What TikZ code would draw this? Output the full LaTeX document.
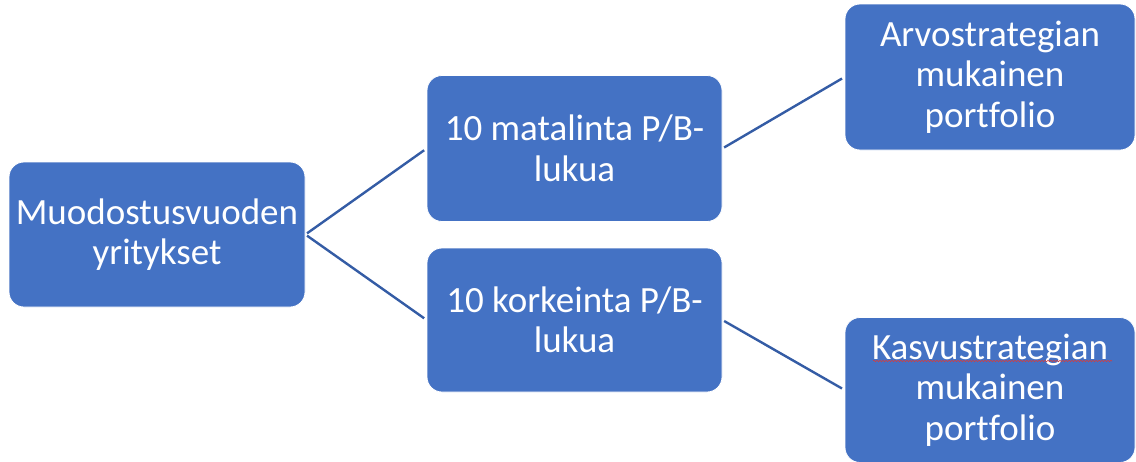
\documentclass[tikz,border=0pt]{standalone}
\usepackage{fontspec}
\setmainfont{Carlito}[Ligatures=CommonOff]
\usetikzlibrary{decorations.pathmorphing}
\definecolor{boxblue}{RGB}{68,114,196}
\definecolor{linkblue}{RGB}{52,92,165}
\definecolor{spellred}{RGB}{214,60,60}
\tikzset{
  stepbox/.style={rectangle, rounded corners=15pt, fill=boxblue, draw=white, line width=0.8pt,
    text=white, align=center, inner sep=0pt,
    font=\fontsize{37}{40.5}\selectfont},
  link/.style={draw=linkblue, line width=2.4pt, shorten <=2pt, shorten >=3pt}
}
\begin{document}
\begin{tikzpicture}[x=1pt,y=-1pt]
\useasboundingbox (0,0) rectangle (1136,461);
\node[stepbox, minimum width=296pt, minimum height=145pt] (src) at (157,234.5) {Muodostusvuoden\\yritykset};
\node[stepbox, minimum width=295pt, minimum height=146pt] (low) at (574.5,148.5) {10 matalinta P/B-\\lukua};
\node[stepbox, minimum width=295pt, minimum height=144pt] (high) at (574.5,320) {10 korkeinta P/B-\\lukua};
\node[stepbox, minimum width=290pt, minimum height=146pt] (value) at (990,77) {Arvostrategian\\mukainen\\portfolio};
\node[stepbox, minimum width=290pt, minimum height=145pt] (growth) at (990,390) {Kasvustrategian\\mukainen\\portfolio};
\draw[link] (src.east) -- (low.west);
\draw[link] (src.east) -- (high.west);
\draw[link] (low.east) -- (value.west);
\draw[link] (high.east) -- (growth.west);
% spell-check wave under the first word of the lower right box
\draw[spellred, line width=0.6pt, decorate, decoration={snake, amplitude=0.7pt, segment length=3pt}] (873,361) -- (1112,361);
\end{tikzpicture}
\end{document}
